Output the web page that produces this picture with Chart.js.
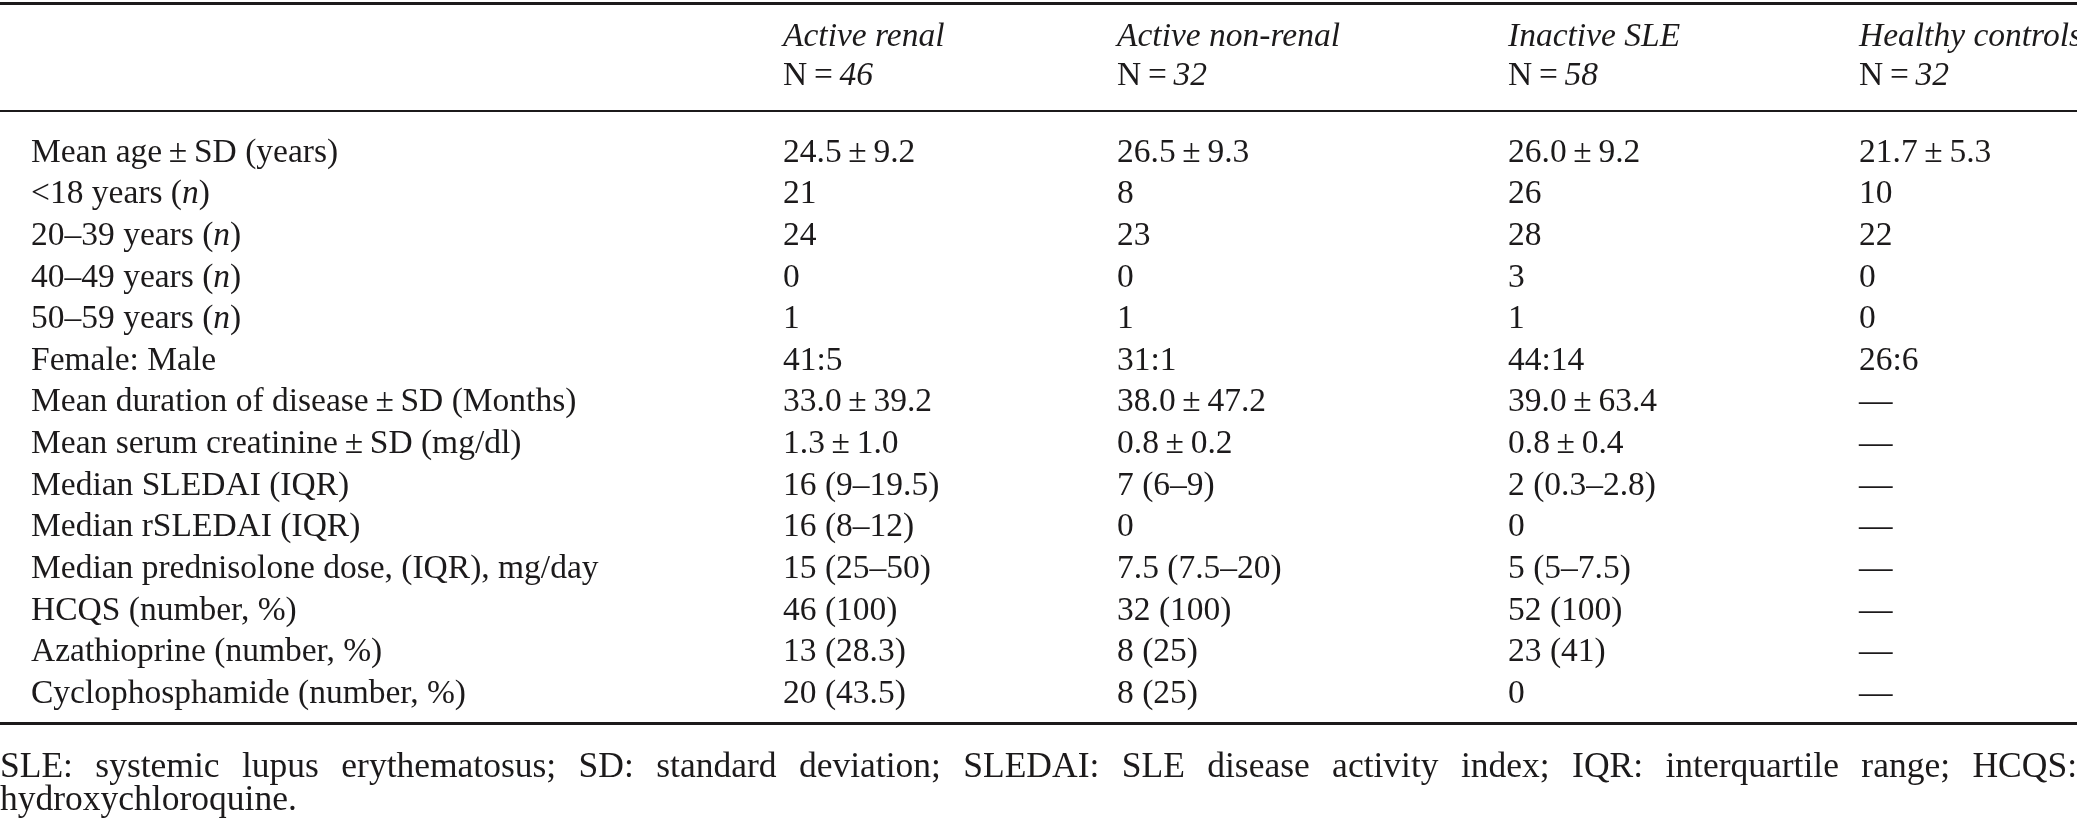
<!DOCTYPE html>
<html>
<head>
<meta charset="utf-8">
<title>Characteristics of SLE patients and controls</title>
<script src="https://cdn.jsdelivr.net/npm/chart.js@4.4.1/dist/chart.umd.min.js"></script>
<style>
  html, body { margin: 0; padding: 0; background: #fff; }
  #wrap { width: 2077px; height: 823px; position: relative; }
</style>
</head>
<body>
<div id="wrap"><canvas id="table"></canvas></div>
<script>
// _text_ marks italic runs
const groups = ['Active renal', 'Active non-renal', 'Inactive SLE', 'Healthy controls'];
const groupN = [46, 32, 58, 32];

const rowLabels = [
  'Mean age ± SD (years)',
  '<18 years (_n_)',
  '20–39 years (_n_)',
  '40–49 years (_n_)',
  '50–59 years (_n_)',
  'Female: Male',
  'Mean duration of disease ± SD (Months)',
  'Mean serum creatinine ± SD (mg/dl)',
  'Median SLEDAI (IQR)',
  'Median rSLEDAI (IQR)',
  'Median prednisolone dose, (IQR), mg/day',
  'HCQS (number, %)',
  'Azathioprine (number, %)',
  'Cyclophosphamide (number, %)'
];

const activeRenal = ['24.5 ± 9.2', '21', '24', '0', '1', '41:5', '33.0 ± 39.2', '1.3 ± 1.0',
  '16 (9–19.5)', '16 (8–12)', '15 (25–50)', '46 (100)', '13 (28.3)', '20 (43.5)'];
const activeNonRenal = ['26.5 ± 9.3', '8', '23', '0', '1', '31:1', '38.0 ± 47.2', '0.8 ± 0.2',
  '7 (6–9)', '0', '7.5 (7.5–20)', '32 (100)', '8 (25)', '8 (25)'];
const inactiveSle = ['26.0 ± 9.2', '26', '28', '3', '1', '44:14', '39.0 ± 63.4', '0.8 ± 0.4',
  '2 (0.3–2.8)', '0', '5 (5–7.5)', '52 (100)', '23 (41)', '0'];
const healthyControls = ['21.7 ± 5.3', '10', '22', '0', '0', '26:6', '—', '—',
  '—', '—', '—', '—', '—', '—'];

const footnote = 'SLE: systemic lupus erythematosus; SD: standard deviation; SLEDAI: SLE disease activity index; IQR: interquartile range; HCQS: hydroxychloroquine.';

const FONT = '"Liberation Serif", "Times New Roman", serif';
const INK = '#1c1a1b';

// category scale whose columns are spaced by relative widths instead of evenly
class ColumnScale extends Chart.CategoryScale {
  static id = 'column';
  getPixelForValue(value) {
    if (typeof value !== 'number') value = this.parse(value);
    const w = this.options.weights;
    if (!w) return super.getPixelForValue(value);
    const total = w.reduce((a, b) => a + b, 0);
    let acc = 0;
    for (let i = 0; i < value; i++) acc += w[i];
    return this.left + (this.right - this.left) * acc / total;
  }
}
Chart.register(ColumnScale);

function drawRich(ctx, text, x, y, size) {
  const parts = text.replace(/ ± /g, '\u2009±\u2009').replace(/ = /g, '\u2009=\u2009').split('_');
  let cx = x;
  parts.forEach((p, i) => {
    ctx.font = (i % 2 ? 'italic ' : '') + size + 'px ' + FONT;
    ctx.fillText(p, cx, y);
    cx += ctx.measureText(p).width;
  });
}

const tablePlugin = {
  id: 'tableText',
  afterDatasetsDraw(chart, args, opts) {
    const { ctx, chartArea, scales: { x, y } } = chart;
    const step = y.getPixelForValue(1) - y.getPixelForValue(0);
    ctx.save();
    ctx.fillStyle = INK;
    ctx.textAlign = 'left';
    ctx.textBaseline = 'middle';

    // stub column
    rowLabels.forEach((lab, i) => drawRich(ctx, lab, y.left, y.getPixelForValue(i), opts.size));

    // body cells, one dataset per group
    chart.data.datasets.forEach((ds, di) => {
      chart.getDatasetMeta(di).data.forEach((pt, j) => {
        drawRich(ctx, ds.cells[j], pt.x, pt.y, opts.size);
      });
    });

    // column heads
    groups.forEach((g, i) => {
      const px = x.getPixelForValue(i);
      drawRich(ctx, '_' + g + '_', px, chartArea.top - 2.78 * step, opts.size);
      drawRich(ctx, 'N = _' + groupN[i] + '_', px, chartArea.top - 1.85 * step, opts.size);
    });

    // rules
    const rule = (yy, w) => ctx.fillRect(0, Math.round(yy - w / 2), chart.width, w);
    rule(chartArea.top - 3.6 * step, 3);
    rule(chartArea.top - 1.02 * step, 2);
    rule(chartArea.bottom + 0.72 * step, 3);

    // footnote, justified
    ctx.font = opts.footSize + 'px ' + FONT;
    const words = footnote.split(' ');
    const lines = [];
    let cur = [];
    words.forEach(w => {
      const test = cur.concat(w).join(' ');
      if (cur.length && ctx.measureText(test).width > chart.width) {
        lines.push(cur);
        cur = [w];
      } else {
        cur.push(w);
      }
    });
    lines.push(cur);
    lines.forEach((ln, li) => {
      const yy = chartArea.bottom + (1.78 + li * 0.79) * step;
      if (li === lines.length - 1) {
        ctx.fillText(ln.join(' '), 0, yy);
        return;
      }
      const total = ln.reduce((s, w) => s + ctx.measureText(w).width, 0);
      const gap = (chart.width - total) / (ln.length - 1);
      let cx = 0;
      ln.forEach(w => {
        ctx.fillText(w, cx, yy);
        cx += ctx.measureText(w).width + gap;
      });
    });
    ctx.restore();
  }
};

const columns = [activeRenal, activeNonRenal, inactiveSle, healthyControls];

new Chart(document.getElementById('table'), {
  type: 'scatter',
  data: {
    datasets: columns.map((col, i) => ({
      label: groups[i],
      cells: col,
      data: col.map((v, j) => ({ x: groups[i], y: rowLabels[j] })),
      pointRadius: 0,
      pointHoverRadius: 0,
      pointHitRadius: 0
    }))
  },
  options: {
    responsive: true,
    maintainAspectRatio: false,
    animation: false,
    events: [],
    layout: { padding: { left: 31, right: 218, top: 153, bottom: 129 } },
    scales: {
      x: {
        type: 'column',
        labels: groups,
        weights: [334, 391, 351],
        offset: false,
        display: false
      },
      y: {
        type: 'category',
        labels: rowLabels,
        offset: false,
        display: true,
        ticks: { display: false },
        grid: { display: false },
        border: { display: false },
        afterFit: (scale) => { scale.width = 752; }
      }
    },
    plugins: {
      legend: { display: false },
      tooltip: { enabled: false },
      tableText: { size: 33.5, footSize: 35.5 }
    }
  },
  plugins: [tablePlugin]
});
</script>
</body>
</html>
